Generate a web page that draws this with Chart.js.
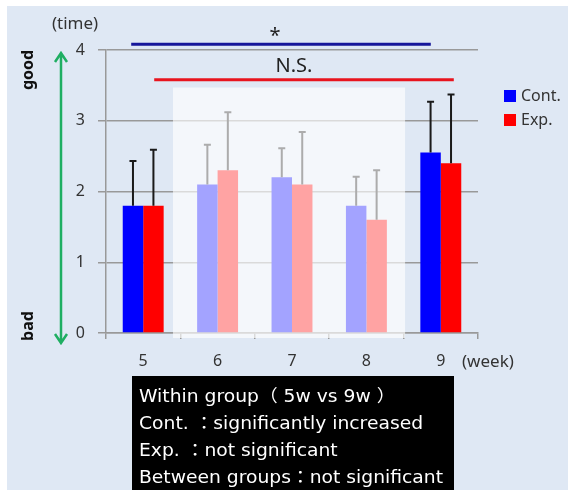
<!DOCTYPE html>
<html>
<head>
<meta charset="utf-8">
<script src="https://cdn.jsdelivr.net/npm/chart.js@4.4.1/dist/chart.umd.min.js"></script>
<style>
  html, body { margin: 0; padding: 0; background: #fff; }
  canvas { display: block; }
</style>
</head>
<body>
<canvas id="chart" width="568" height="490"></canvas>
<script>
const weeks = ['5', '6', '7', '8', '9'];
const contMean = [1.8, 2.1, 2.2, 1.8, 2.55];
const expMean = [1.8, 2.3, 2.1, 1.6, 2.4];
const contSD = [0.63, 0.56, 0.41, 0.41, 0.72];
const expSD = [0.79, 0.82, 0.74, 0.70, 0.97];
const yTicks = [0, 1, 2, 3, 4];
const noteLines = [
  'Within group（ 5w vs 9w ）',
  'Cont. ：significantly increased',
  'Exp. ：not significant',
  'Between groups：not significant'
];

const FONT = '"Noto Sans", "DejaVu Sans", sans-serif';

// panel background, drawn before everything
const panelPlugin = {
  id: 'panel',
  beforeDraw(chart) {
    const ctx = chart.ctx;
    ctx.save();
    ctx.fillStyle = '#fff';
    ctx.fillRect(0, 0, chart.width, chart.height);
    ctx.fillStyle = '#dfe8f4';
    ctx.fillRect(7, 6, chart.width - 7, chart.height - 6);
    ctx.restore();
  }
};

// upper error bars, then the pale overlay over weeks 6-8
const errorPlugin = {
  id: 'errors',
  afterDatasetsDraw(chart) {
    const ctx = chart.ctx;
    const y = chart.scales.y;
    const x = chart.scales.x;
    const sds = [contSD, expSD];
    ctx.save();
    chart.data.datasets.forEach((ds, di) => {
      const meta = chart.getDatasetMeta(di);
      meta.data.forEach((bar, i) => {
        const top = y.getPixelForValue(ds.data[i] + sds[di][i]);
        ctx.strokeStyle = '#1a1a1a';
        ctx.lineWidth = 2;
        ctx.beginPath();
        ctx.moveTo(bar.x, bar.y);
        ctx.lineTo(bar.x, top);
        ctx.moveTo(bar.x - 3.5, top);
        ctx.lineTo(bar.x + 3.5, top);
        ctx.stroke();
      });
    });

    const catW = x.getPixelForValue(1) - x.getPixelForValue(0);
    const left = x.getPixelForValue(1) - 0.6 * catW;
    const right = x.getPixelForValue(3) + 0.52 * catW;
    const top = y.getPixelForValue(3.47);
    const bottom = chart.chartArea.bottom + 5;
    ctx.fillStyle = 'rgba(255,255,255,0.64)';
    ctx.fillRect(left, top, right - left, bottom - top);
    ctx.restore();
  }
};

// texts, arrows, legend, significance lines, note box
const decoPlugin = {
  id: 'deco',
  afterDraw(chart) {
    const ctx = chart.ctx;
    const x = chart.scales.x;
    const y = chart.scales.y;
    ctx.save();

    // (time) and (week)
    ctx.fillStyle = '#333';
    ctx.font = '17px ' + FONT;
    ctx.textBaseline = 'middle';
    ctx.textAlign = 'center';
    ctx.fillText('(time)', 75, 24);
    ctx.textAlign = 'left';
    ctx.fillText('(week)', 462, 362);

    // good / bad rotated
    ctx.fillStyle = '#111';
    ctx.font = 'bold 16px ' + FONT;
    ctx.textAlign = 'center';
    [['good', 70], ['bad', 326]].forEach(([t, cy]) => {
      ctx.save();
      ctx.translate(28, cy);
      ctx.rotate(-Math.PI / 2);
      ctx.fillText(t, 0, 0);
      ctx.restore();
    });

    // green double arrow
    const ax = 61, ay1 = 53, ay2 = 343;
    ctx.strokeStyle = '#1fae62';
    ctx.lineWidth = 2.5;
    ctx.beginPath();
    ctx.moveTo(ax, ay1 + 2);
    ctx.lineTo(ax, ay2 - 2);
    ctx.moveTo(ax - 6, ay1 + 9);
    ctx.lineTo(ax, ay1);
    ctx.lineTo(ax + 6, ay1 + 9);
    ctx.moveTo(ax - 6, ay2 - 9);
    ctx.lineTo(ax, ay2);
    ctx.lineTo(ax + 6, ay2 - 9);
    ctx.stroke();

    // significance lines
    const c0 = x.getPixelForValue(0);
    const c4 = x.getPixelForValue(4);
    const yb = y.getPixelForValue(4.08);
    const yr = y.getPixelForValue(3.58);
    ctx.lineWidth = 3;
    ctx.strokeStyle = '#16169a';
    ctx.beginPath();
    ctx.moveTo(c0 - 12, yb);
    ctx.lineTo(c4 - 10, yb);
    ctx.stroke();
    ctx.strokeStyle = '#e8141e';
    ctx.beginPath();
    ctx.moveTo(c0 + 11, yr);
    ctx.lineTo(c4 + 13, yr);
    ctx.stroke();
    ctx.fillStyle = '#222';
    ctx.textAlign = 'center';
    ctx.font = '20px ' + FONT;
    ctx.fillText('*', 275, yb - 8);
    ctx.font = '20px ' + FONT;
    ctx.fillText('N.S.', 294, yr - 13);

    // legend
    ctx.textAlign = 'left';
    ctx.font = '16px ' + FONT;
    chart.data.datasets.forEach((ds, i) => {
      const ly = 96 + i * 24;
      ctx.fillStyle = ds.backgroundColor;
      ctx.fillRect(504, ly - 6, 12, 12);
      ctx.fillStyle = '#333';
      ctx.fillText(ds.label, 521, ly);
    });

    // note box
    ctx.fillStyle = '#000';
    ctx.fillRect(132, 376, 322, chart.height - 376);
    ctx.fillStyle = '#fff';
    ctx.font = '17px "DejaVu Sans", "Noto Sans CJK JP", sans-serif';
    ctx.textBaseline = 'alphabetic';
    const sx = 304 / ctx.measureText(noteLines[3]).width;
    noteLines.forEach((t, i) => {
      ctx.save();
      ctx.translate(139, 402 + i * 27);
      ctx.scale(sx, 1);
      ctx.fillText(t, 0, 0);
      ctx.restore();
    });

    ctx.restore();
  }
};

new Chart(document.getElementById('chart'), {
  type: 'bar',
  data: {
    labels: weeks,
    datasets: [
      { label: 'Cont.', data: contMean, backgroundColor: '#0000ff' },
      { label: 'Exp.', data: expMean, backgroundColor: '#ff0000' }
    ]
  },
  options: {
    responsive: false,
    animation: false,
    events: [],
    layout: { padding: { left: 0, top: 50, right: 90, bottom: 0 } },
    datasets: {
      bar: { categoryPercentage: 0.55, barPercentage: 1.0, borderWidth: 0 }
    },
    scales: {
      x: {
        afterFit(scale) { scale.height = 157; },
        border: { display: true, color: '#999', width: 1.5 },
        grid: { display: true, drawOnChartArea: false, offset: true, tickLength: 6, color: '#999', lineWidth: 1.5 },
        ticks: { color: '#333', font: { size: 16, family: FONT }, padding: 13 }
      },
      y: {
        min: 0,
        max: 4,
        afterFit(scale) { scale.width = 106; },
        afterBuildTicks(scale) { scale.ticks = yTicks.map(v => ({ value: v })); },
        border: { display: true, color: '#999', width: 1.5 },
        grid: { color: '#999', lineWidth: 1.5, tickLength: 8 },
        ticks: { color: '#333', font: { size: 16, family: FONT }, padding: 13 }
      }
    },
    plugins: {
      legend: { display: false },
      tooltip: { enabled: false }
    }
  },
  plugins: [panelPlugin, errorPlugin, decoPlugin]
});
</script>
</body>
</html>
